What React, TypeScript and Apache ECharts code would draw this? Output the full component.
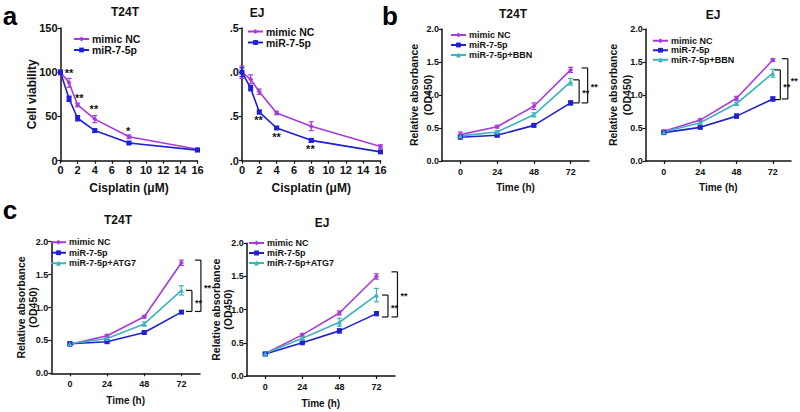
import React, { useEffect, useRef } from 'react';
import * as echarts from 'echarts';

// ---------- data ----------
const doseX = [0, 1, 2, 4, 8, 16];
const timeCategories = ['0', '24', '48', '72'];

// panel a, T24T (cell viability, %)
const aT24T_nc = [100, 88, 63, 47, 27, 13];
const aT24T_nc_err = [3, 5, 2, 4, 2, 1];
const aT24T_mir = [100, 70, 48, 34, 20, 12];
const aT24T_mir_err = [2, 3, 3, 2, 1, 1];
const aT24T_starX = [1, 2.2, 3.9, 7.9];
const aT24T_starY = [99.5, 71, 58.5, 33.5];
const aT24T_starText = ['**', '**', '**', '*'];

// panel a, EJ (relative viability)
const aEJ_nc = [1.0, 0.92, 0.78, 0.54, 0.39, 0.16];
const aEJ_nc_err = [0.07, 0.05, 0.03, 0.02, 0.05, 0.02];
const aEJ_mir = [1.0, 0.82, 0.55, 0.37, 0.23, 0.1];
const aEJ_mir_err = [0.05, 0.03, 0.02, 0.01, 0.02, 0.01];
const aEJ_starX = [1.9, 4.0, 7.9];
const aEJ_starY = [0.455, 0.265, 0.135];
const aEJ_starText = ['**', '**', '**'];

// panel b, T24T (OD450)
const bT24T_nc = [0.4, 0.52, 0.83, 1.38];
const bT24T_nc_err = [0.04, 0.02, 0.05, 0.04];
const bT24T_mir = [0.36, 0.39, 0.54, 0.88];
const bT24T_mir_err = [0.02, 0.02, 0.02, 0.03];
const bT24T_bbn = [0.38, 0.44, 0.7, 1.2];
const bT24T_bbn_err = [0.02, 0.02, 0.03, 0.05];
const bT24T_brackets = [[1.23, 0.88], [1.41, 0.88]];

// panel b, EJ
const bEJ_nc = [0.45, 0.62, 0.95, 1.53];
const bEJ_nc_err = [0.02, 0.02, 0.03, 0.02];
const bEJ_mir = [0.43, 0.51, 0.68, 0.94];
const bEJ_mir_err = [0.02, 0.01, 0.03, 0.03];
const bEJ_bbn = [0.44, 0.58, 0.87, 1.33];
const bEJ_bbn_err = [0.02, 0.02, 0.02, 0.06];
const bEJ_brackets = [[1.38, 0.93], [1.55, 0.94]];

// panel c, T24T
const cT24T_nc = [0.44, 0.57, 0.86, 1.68];
const cT24T_nc_err = [0.03, 0.02, 0.02, 0.04];
const cT24T_mir = [0.45, 0.48, 0.62, 0.93];
const cT24T_mir_err = [0.02, 0.02, 0.02, 0.02];
const cT24T_atg = [0.45, 0.53, 0.75, 1.26];
const cT24T_atg_err = [0.02, 0.02, 0.03, 0.07];
const cT24T_brackets = [[1.26, 0.94], [1.72, 0.94]];

// panel c, EJ
const cEJ_nc = [0.34, 0.62, 0.95, 1.5];
const cEJ_nc_err = [0.02, 0.02, 0.03, 0.04];
const cEJ_mir = [0.33, 0.5, 0.68, 0.94];
const cEJ_mir_err = [0.02, 0.01, 0.03, 0.03];
const cEJ_atg = [0.34, 0.57, 0.81, 1.22];
const cEJ_atg_err = [0.02, 0.02, 0.06, 0.1];
const cEJ_brackets = [[1.22, 0.89], [1.57, 0.89]];

// ---------- styling ----------
const FONT = "'Liberation Sans',Arial,sans-serif";
const C_NC = '#a83ad8';
const C_MIR = '#1f1fd4';
const C_TEAL = '#3db3bd';

type Group = { name: string; values: number[]; errors: number[]; color: string; symbol: string };
type Panel = {
  kind: 'dose' | 'time';
  grid: { left: number; top: number; width: number; height: number };
  yMin: number; yMax: number; yInterval: number;
  yFormatter: (v: number) => string;
  yName: string; yNameGap: number; yNameLH: number;
  xName: string; xNameGap: number;
  labelSize: number;
  groups: Group[];
  starX?: number[]; starY?: number[]; starText?: string[];
  brackets?: number[][]; bracketOffsets?: number[];
  legend: { left: number; top: number; fontSize: number; lh: number };
};

const panels: Panel[] = [
  {
    kind: 'dose', grid: { left: 60.5, top: 28, width: 137, height: 132.7 },
    yMin: 0, yMax: 150, yInterval: 50, yFormatter: (v) => String(v),
    yName: 'Cell viability', yNameGap: 21.5, yNameLH: 14, xName: 'Cisplatin (μM)', xNameGap: 21, labelSize: 11,
    groups: [
      { name: 'mimic NC', values: aT24T_nc, errors: aT24T_nc_err, color: C_NC, symbol: 'diamond' },
      { name: 'miR-7-5p', values: aT24T_mir, errors: aT24T_mir_err, color: C_MIR, symbol: 'rect' },
    ],
    starX: aT24T_starX, starY: aT24T_starY, starText: aT24T_starText,
    legend: { left: 73, top: 33.5, fontSize: 10.5, lh: 11 },
  },
  {
    kind: 'dose', grid: { left: 242, top: 28, width: 138.5, height: 132.7 },
    yMin: 0, yMax: 1.5, yInterval: 0.5, yFormatter: (v) => v.toFixed(1).slice(1),
    yName: '', yNameGap: 20, yNameLH: 14, xName: 'Cisplatin (μM)', xNameGap: 21, labelSize: 11,
    groups: [
      { name: 'mimic NC', values: aEJ_nc, errors: aEJ_nc_err, color: C_NC, symbol: 'diamond' },
      { name: 'miR-7-5p', values: aEJ_mir, errors: aEJ_mir_err, color: C_MIR, symbol: 'rect' },
    ],
    starX: aEJ_starX, starY: aEJ_starY, starText: aEJ_starText,
    legend: { left: 247, top: 26, fontSize: 10.5, lh: 10 },
  },
  {
    kind: 'time', grid: { left: 442, top: 29, width: 147, height: 132 },
    yMin: 0, yMax: 2, yInterval: 0.5, yFormatter: (v) => v.toFixed(1),
    yName: 'Relative absorbance\n(OD450)', yNameGap: 7, yNameLH: 14, xName: 'Time (h)', xNameGap: 21, labelSize: 9,
    groups: [
      { name: 'mimic NC', values: bT24T_nc, errors: bT24T_nc_err, color: C_NC, symbol: 'diamond' },
      { name: 'miR-7-5p', values: bT24T_mir, errors: bT24T_mir_err, color: C_MIR, symbol: 'rect' },
      { name: 'miR-7-5p+BBN', values: bT24T_bbn, errors: bT24T_bbn_err, color: C_TEAL, symbol: 'triangle' },
    ],
    brackets: bT24T_brackets, bracketOffsets: [8.5, 17],
    legend: { left: 450, top: 30, fontSize: 9, lh: 10 },
  },
  {
    kind: 'time', grid: { left: 645.7, top: 29, width: 145.3, height: 132 },
    yMin: 0, yMax: 2, yInterval: 0.5, yFormatter: (v) => v.toFixed(1),
    yName: 'Relative absorbance\n(OD450)', yNameGap: 11.5, yNameLH: 14, xName: 'Time (h)', xNameGap: 21, labelSize: 9,
    groups: [
      { name: 'mimic NC', values: bEJ_nc, errors: bEJ_nc_err, color: C_NC, symbol: 'diamond' },
      { name: 'miR-7-5p', values: bEJ_mir, errors: bEJ_mir_err, color: C_MIR, symbol: 'rect' },
      { name: 'miR-7-5p+BBN', values: bEJ_bbn, errors: bEJ_bbn_err, color: C_TEAL, symbol: 'triangle' },
    ],
    brackets: bEJ_brackets, bracketOffsets: [7.5, 15],
    legend: { left: 652, top: 36, fontSize: 9, lh: 9.5 },
  },
  {
    kind: 'time', grid: { left: 51.3, top: 241.7, width: 148.7, height: 131.6 },
    yMin: 0, yMax: 2, yInterval: 0.5, yFormatter: (v) => v.toFixed(1),
    yName: 'Relative absorbance\n(OD450)', yNameGap: 12.5, yNameLH: 12, xName: 'Time (h)', xNameGap: 22, labelSize: 9,
    groups: [
      { name: 'mimic NC', values: cT24T_nc, errors: cT24T_nc_err, color: C_NC, symbol: 'diamond' },
      { name: 'miR-7-5p', values: cT24T_mir, errors: cT24T_mir_err, color: C_MIR, symbol: 'rect' },
      { name: 'miR-7-5p+ATG7', values: cT24T_atg, errors: cT24T_atg_err, color: C_TEAL, symbol: 'triangle' },
    ],
    brackets: cT24T_brackets, bracketOffsets: [10.5, 19.5],
    legend: { left: 50, top: 237, fontSize: 9, lh: 10.5 },
  },
  {
    kind: 'time', grid: { left: 246.7, top: 243.3, width: 148.3, height: 132.7 },
    yMin: 0, yMax: 2, yInterval: 0.5, yFormatter: (v) => v.toFixed(1),
    yName: 'Relative absorbance\n(OD450)', yNameGap: 12.5, yNameLH: 12, xName: 'Time (h)', xNameGap: 22, labelSize: 9,
    groups: [
      { name: 'mimic NC', values: cEJ_nc, errors: cEJ_nc_err, color: C_NC, symbol: 'diamond' },
      { name: 'miR-7-5p', values: cEJ_mir, errors: cEJ_mir_err, color: C_MIR, symbol: 'rect' },
      { name: 'miR-7-5p+ATG7', values: cEJ_atg, errors: cEJ_atg_err, color: C_TEAL, symbol: 'triangle' },
    ],
    brackets: cEJ_brackets, bracketOffsets: [11.5, 21],
    legend: { left: 248, top: 238, fontSize: 9, lh: 10 },
  },
];

const titles = [
  { text: 'T24T', x: 125, y: 12, size: 12 },
  { text: 'EJ', x: 257, y: 13, size: 12 },
  { text: 'T24T', x: 513, y: 14, size: 12 },
  { text: 'EJ', x: 713, y: 15, size: 12 },
  { text: 'T24T', x: 118, y: 220, size: 12 },
  { text: 'EJ', x: 322, y: 223, size: 12 },
];
const letters = [
  { text: 'a', x: 10, y: 16 },
  { text: 'b', x: 390, y: 16 },
  { text: 'c', x: 10, y: 210 },
];

function buildOption() {
  const grid: any[] = [];
  const xAxis: any[] = [];
  const yAxis: any[] = [];
  const series: any[] = [];
  const legend: any[] = [];

  panels.forEach((p, gi) => {
    grid.push({ ...p.grid });
    const axisLine = { show: true, onZero: false, lineStyle: { color: '#111', width: 1.5 } };
    const axisTick = { show: true, length: 3, lineStyle: { color: '#111', width: 1.2 } };
    if (p.kind === 'dose') {
      xAxis.push({
        type: 'value', gridIndex: gi, min: 0, max: 16, interval: 2,
        axisLine, axisTick, splitLine: { show: false },
        axisLabel: { color: '#111', fontWeight: 'bold', fontSize: p.labelSize, fontFamily: FONT, margin: 4 },
        name: p.xName, nameLocation: 'middle', nameGap: p.xNameGap, nameMoveOverlap: false,
        nameTextStyle: { color: '#111', fontWeight: 'bold', fontSize: 12, fontFamily: FONT },
      });
    } else {
      xAxis.push({
        type: 'category', gridIndex: gi, data: timeCategories, boundaryGap: true,
        axisLine, axisTick: { ...axisTick, alignWithLabel: true }, splitLine: { show: false },
        axisLabel: { color: '#111', fontWeight: 'bold', fontSize: p.labelSize, fontFamily: FONT, margin: 6, interval: 0 },
        name: p.xName, nameLocation: 'middle', nameGap: p.xNameGap, nameMoveOverlap: false,
        nameTextStyle: { color: '#111', fontWeight: 'bold', fontSize: 10, fontFamily: FONT },
      });
    }
    yAxis.push({
      type: 'value', gridIndex: gi, min: p.yMin, max: p.yMax, interval: p.yInterval,
      axisLine, axisTick, splitLine: { show: false },
      axisLabel: { color: '#111', fontWeight: 'bold', fontSize: p.labelSize, fontFamily: FONT, margin: 3, formatter: p.yFormatter },
      name: p.yName, nameLocation: 'middle', nameGap: p.yNameGap, nameMoveOverlap: false,
      nameTextStyle: { color: '#111', fontWeight: 'bold', fontSize: p.kind === 'dose' ? 12 : 10.5, lineHeight: p.yNameLH, fontFamily: FONT },
    });

    const xs = p.kind === 'dose' ? doseX : timeCategories.map((_, i) => i);

    p.groups.forEach((g) => {
      series.push({
        type: 'line', name: g.name, xAxisIndex: gi, yAxisIndex: gi,
        data: xs.map((x, i) => [x, g.values[i]]),
        symbol: g.symbol, symbolSize: 5, z: 4,
        lineStyle: { color: g.color, width: 1.6 }, itemStyle: { color: g.color },
      });
      series.push({
        type: 'custom', name: g.name + ' err', xAxisIndex: gi, yAxisIndex: gi, z: 3,
        encode: { x: 0, y: 1 },
        data: xs.map((x, i) => [x, g.values[i], g.errors[i]]),
        renderItem: (params: any, api: any) => {
          const x = api.value(0), y = api.value(1), e = api.value(2);
          const t = api.coord([x, y + e]);
          const b = api.coord([x, y - e]);
          const st = { stroke: g.color, lineWidth: 1.2 };
          return {
            type: 'group', children: [
              { type: 'line', shape: { x1: t[0], y1: t[1], x2: b[0], y2: b[1] }, style: st },
              { type: 'line', shape: { x1: t[0] - 2.5, y1: t[1], x2: t[0] + 2.5, y2: t[1] }, style: st },
              { type: 'line', shape: { x1: b[0] - 2.5, y1: b[1], x2: b[0] + 2.5, y2: b[1] }, style: st },
            ],
          };
        },
      });
    });

    if (p.starX && p.starY && p.starText) {
      const texts = p.starText;
      series.push({
        type: 'custom', name: 'stars', xAxisIndex: gi, yAxisIndex: gi, z: 5,
        encode: { x: 0, y: 1 },
        data: p.starX.map((x, i) => [x, p.starY![i]]),
        renderItem: (params: any, api: any) => {
          const c = api.coord([api.value(0), api.value(1)]);
          return {
            type: 'text', x: c[0], y: c[1],
            style: { text: texts[params.dataIndex], fill: '#111', font: `bold 11px ${FONT}`, align: 'center', verticalAlign: 'middle' },
          };
        },
      });
    }

    if (p.brackets && p.bracketOffsets) {
      const offs = p.bracketOffsets;
      series.push({
        type: 'custom', name: 'brackets', xAxisIndex: gi, yAxisIndex: gi, z: 5,
        encode: { x: 0, y: 1 },
        data: p.brackets.map((b) => [timeCategories.length - 1, b[0], b[1]]),
        renderItem: (params: any, api: any) => {
          const top = api.coord([api.value(0), api.value(1)]);
          const bot = api.coord([api.value(0), api.value(2)]);
          const x = top[0] + offs[params.dataIndex];
          const st = { stroke: '#111', lineWidth: 1.2 };
          return {
            type: 'group', children: [
              { type: 'line', shape: { x1: x, y1: top[1], x2: x, y2: bot[1] }, style: st },
              { type: 'line', shape: { x1: x - 6, y1: top[1], x2: x, y2: top[1] }, style: st },
              { type: 'line', shape: { x1: x - 6, y1: bot[1], x2: x, y2: bot[1] }, style: st },
              {
                type: 'text', x: x + 3, y: (top[1] + bot[1]) / 2 + 2,
                style: { text: '**', fill: '#111', font: `bold 9px ${FONT}`, align: 'left', verticalAlign: 'middle' },
              },
            ],
          };
        },
      });
    }

    legend.push({
      show: true, orient: 'vertical', left: p.legend.left, top: p.legend.top,
      padding: 0, itemGap: 0, itemWidth: 15, itemHeight: 6, selectedMode: false,
      data: p.groups.map((g) => g.name),
      textStyle: {
        color: '#111', fontWeight: 'bold', fontSize: p.legend.fontSize, lineHeight: p.legend.lh,
        height: p.legend.lh, fontFamily: FONT, padding: [0, 0, 0, -2],
      },
    });
  });

  const graphic: any[] = [
    ...titles.map((t) => ({
      type: 'text', x: t.x, y: t.y,
      style: { text: t.text, fill: '#111', font: `bold ${t.size}px ${FONT}`, textAlign: 'center', textVerticalAlign: 'middle' },
    })),
    ...letters.map((t) => ({
      type: 'text', x: t.x, y: t.y,
      style: { text: t.text, fill: '#000', font: `bold 26px ${FONT}`, textAlign: 'center', textVerticalAlign: 'middle' },
    })),
  ];

  return {
    animation: false,
    backgroundColor: '#ffffff',
    textStyle: { fontFamily: FONT },
    grid, xAxis, yAxis, series, legend, graphic,
  };
}

export default function App() {
  const ref = useRef<HTMLDivElement>(null);
  useEffect(() => {
    if (!ref.current) return;
    const chart = echarts.init(ref.current, undefined, { renderer: 'svg' });
    chart.setOption(buildOption() as any);
    return () => chart.dispose();
  }, []);
  return <div ref={ref} style={{ position: 'absolute', left: 0, top: 0, width: 800, height: 412, background: '#fff' }} />;
}
